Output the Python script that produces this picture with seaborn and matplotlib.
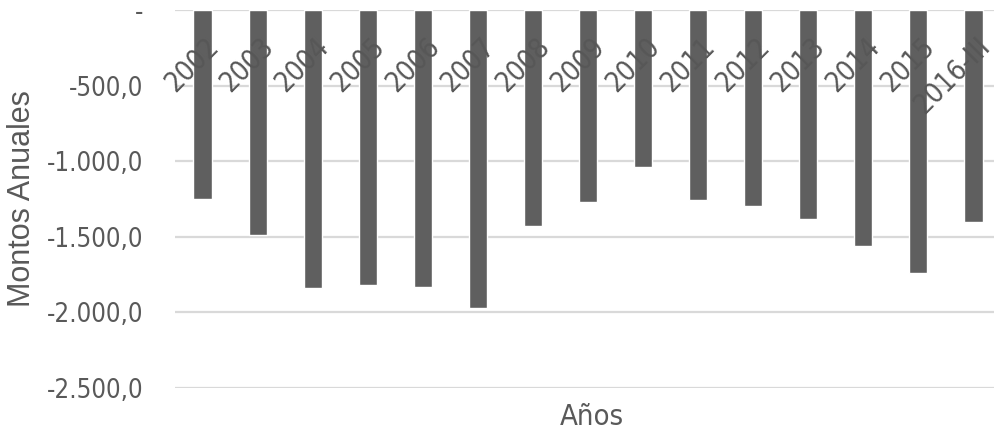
import matplotlib
matplotlib.use("Agg")
import matplotlib.pyplot as plt
import matplotlib.ticker as mticker
import seaborn as sns
import pandas as pd

# Annual amounts by year
years = ["2002", "2003", "2004", "2005", "2006", "2007", "2008", "2009",
         "2010", "2011", "2012", "2013", "2014", "2015", "2016-III"]
amounts = [-1250, -1490, -1841, -1821, -1832, -1973, -1431, -1270,
           -1040, -1259, -1299, -1380, -1561, -1742, -1400]
y_ticks = [0, -500, -1000, -1500, -2000, -2500]

df = pd.DataFrame({"Año": years, "Monto": amounts})

sns.set_theme(style="white")
plt.rcParams["font.family"] = ["DejaVu Sans"]
plt.rcParams["font.stretch"] = "condensed"
regular = ["Liberation Sans", "DejaVu Sans"]
text_color = "#595959"

fig = plt.figure(figsize=(9.94, 4.32), dpi=100)
ax = fig.add_axes([175 / 994, 1 - 388 / 432, 826 / 994, 378 / 432])

sns.barplot(data=df, x="Año", y="Monto", color="#5f5f5f", saturation=1,
            width=0.33, ax=ax, zorder=3)

ax.set_ylim(-2500, 0)
ax.set_xlim(-0.5, len(years) - 0.5)
ax.set_yticks(y_ticks)


def fmt(v, pos):
    if abs(v) < 1e-9:
        return "-"
    s = f"{v:,.1f}"
    return s.replace(",", "X").replace(".", ",").replace("X", ".")


ax.yaxis.set_major_formatter(mticker.FuncFormatter(fmt))
ax.grid(axis="y", color="#d9d9d9", linewidth=1.6, zorder=0)
ax.grid(axis="x", visible=False)
for s in ax.spines.values():
    s.set_visible(False)
ax.tick_params(axis="y", length=0, pad=23, labelsize=18.5, labelcolor=text_color)
ax.tick_params(axis="x", length=0, labelbottom=False)

# Category labels sit just under the zero line, rotated, over the bars
for i, lab in enumerate(years):
    ax.text(i + 0.04, -150, lab, rotation=45, rotation_mode="anchor",
            ha="right", va="top", fontsize=20, color="#575757", zorder=4)

ax.set_xlabel("Años", fontsize=21, color=text_color)
ax.xaxis.set_label_coords(0.505, -0.04)
ax.set_ylabel("Montos Anuales", fontsize=22, color=text_color, family=regular,
              fontstretch="normal")
ax.yaxis.set_label_coords(-0.167, 0.5)

fig.savefig("out.png", dpi=100)
